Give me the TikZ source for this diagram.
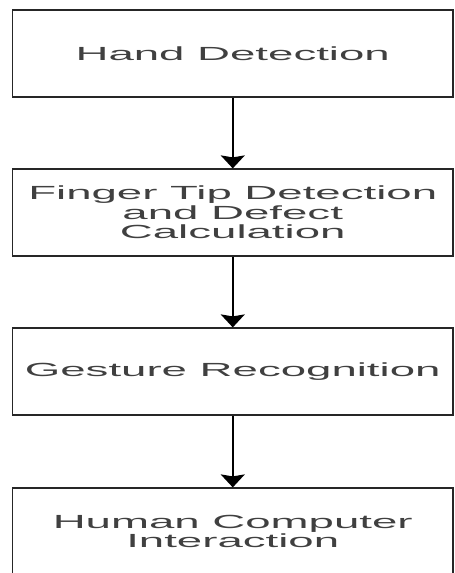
\documentclass[tikz,border=0pt]{standalone}
\usepackage{fontspec}
\setmainfont{Liberation Sans}
\newfontfamily\boxfont[FakeStretch=2.4]{Liberation Sans}
\usetikzlibrary{arrows.meta}
\begin{document}
\begin{tikzpicture}[x=1pt,y=-1pt,
  stepbox/.style={draw=black!85, line width=1.2pt, minimum width=440.5pt, minimum height=87pt,
    inner sep=0pt, align=center, text=black!75, font=\boxfont\fontsize{19}{19.5}\selectfont},
  flowarrow/.style={draw=black, line width=1.8pt, -{Stealth[length=13pt,width=24pt,inset=2pt]}}]
\useasboundingbox (0,0) rectangle (455,573);
\clip (0,0) rectangle (455,573);
\node[stepbox] (hd) at (232.75,53.5) {Hand Detection};
\node[stepbox] (ft) at (232.75,212.5) {Finger Tip Detection\\and Defect\\Calculation};
\node[stepbox] (gr) at (232.75,371.5) {Gesture Recognition};
\node[stepbox] (hc) at (232.75,531.5) {Human Computer\\Interaction};
\draw[flowarrow] (hd) -- (ft);
\draw[flowarrow] (ft) -- (gr);
\draw[flowarrow] (gr) -- (hc);
\end{tikzpicture}
\end{document}
